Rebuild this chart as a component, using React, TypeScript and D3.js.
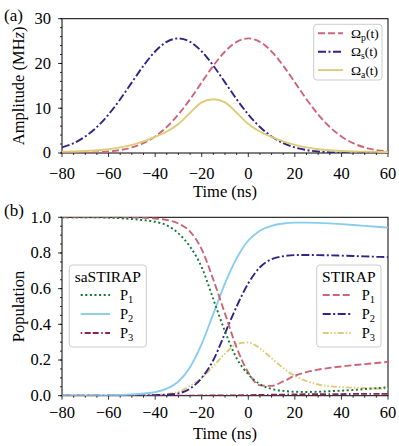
import React from 'react';
import * as d3 from 'd3';

// sample times (ns)
const TIME = [-80, -75, -70, -65, -60, -55, -50, -45, -40, -35, -30, -25, -20, -15, -10, -5, 0, 5, 10, 15, 20, 25, 30, 35, 40, 45, 50, 55, 60];

// panel (a): pulse amplitudes (MHz)
const omegaP = [0.01, 0.03, 0.07, 0.15, 0.33, 0.66, 1.24, 2.2, 3.69, 5.81, 8.61, 12.01, 15.78, 19.5, 22.68, 24.84, 25.6, 24.84, 22.68, 19.5, 15.78, 12.01, 8.61, 5.81, 3.69, 2.2, 1.24, 0.66, 0.33];
const omegaS = [1.24, 2.2, 3.69, 5.81, 8.61, 12.01, 15.78, 19.5, 22.68, 24.84, 25.6, 24.84, 22.68, 19.5, 15.78, 12.01, 8.61, 5.81, 3.69, 2.2, 1.24, 0.66, 0.33, 0.15, 0.07, 0.03, 0.01, 0, 0];
const omegaA = [0.3, 0.35, 0.45, 0.6, 0.85, 1.25, 1.8, 2.6, 3.6, 4.8, 6.5, 9.0, 11.3, 12.0, 11.3, 9.0, 6.5, 4.8, 3.6, 2.6, 1.8, 1.25, 0.85, 0.6, 0.45, 0.35, 0.3, 0.25, 0.2];

// panel (b): populations
const saP1 = [1, 1, 1, 1, 0.998, 0.995, 0.99, 0.984, 0.975, 0.955, 0.91, 0.835, 0.72, 0.54, 0.36, 0.21, 0.12, 0.065, 0.038, 0.027, 0.022, 0.021, 0.022, 0.025, 0.028, 0.032, 0.037, 0.042, 0.047];
const saP2 = [0, 0, 0, 0.001, 0.002, 0.004, 0.007, 0.012, 0.02, 0.04, 0.08, 0.16, 0.29, 0.46, 0.63, 0.77, 0.87, 0.925, 0.952, 0.965, 0.97, 0.97, 0.969, 0.966, 0.962, 0.957, 0.952, 0.947, 0.942];
const saP3 = [0, 0, 0, 0, 0, 0, 0, 0, 0, 0, 0, 0, 0.001, 0.001, 0.002, 0.002, 0.003, 0.004, 0.005, 0.006, 0.007, 0.008, 0.008, 0.009, 0.009, 0.01, 0.01, 0.01, 0.01];
const stP1 = [1, 1, 1, 1, 1, 1, 0.999, 0.997, 0.993, 0.985, 0.965, 0.92, 0.82, 0.65, 0.46, 0.27, 0.13, 0.058, 0.055, 0.08, 0.112, 0.132, 0.146, 0.156, 0.164, 0.171, 0.177, 0.183, 0.19];
const stP2 = [0, 0, 0, 0, 0, 0, 0, 0.001, 0.003, 0.006, 0.013, 0.04, 0.1, 0.2, 0.35, 0.5, 0.63, 0.72, 0.765, 0.782, 0.788, 0.789, 0.788, 0.787, 0.785, 0.783, 0.781, 0.779, 0.777];
const stP3 = [0, 0, 0, 0, 0, 0, 0.001, 0.002, 0.004, 0.01, 0.022, 0.055, 0.1, 0.165, 0.235, 0.29, 0.298, 0.265, 0.21, 0.155, 0.11, 0.082, 0.063, 0.053, 0.048, 0.045, 0.043, 0.04, 0.037];

const xTicks = [-80, -60, -40, -20, 0, 20, 40, 60];
const ampTicks = [0, 10, 20, 30];
const popTicks = [0, 0.2, 0.4, 0.6, 0.8, 1.0];

const FONT = "'Liberation Serif', 'DejaVu Serif', serif";
const FS = 16.5;
const W = 399, H = 446;
const L = 62, R = 388;

const x = d3.scaleLinear().domain([-80, 60]).range([L, R]);
const yA = d3.scaleLinear().domain([0, 30]).range([153, 18.7]);
const yB = d3.scaleLinear().domain([0, 1]).range([395.7, 217.3]);

const C = {
  rose: '#CC6677', indigo: '#332288', sand: '#DDCC77',
  green: '#117733', cyan: '#88CCEE', wine: '#882255',
};

type Series = { vals: number[]; color: string; dash?: string; w?: number };

const seriesA: Series[] = [
  { vals: omegaP, color: C.rose, dash: '7,3' },
  { vals: omegaS, color: C.indigo, dash: '8,2.5,2,2.5' },
  { vals: omegaA, color: C.sand },
];
const seriesB: Series[] = [
  { vals: stP3, color: C.sand, dash: '6,2,1.5,2,1.5,2' },
  { vals: saP3, color: C.wine, dash: '1.5,2.5,6,2,6,2.5' },
  { vals: stP2, color: C.indigo, dash: '8,2.5,2,2.5' },
  { vals: saP2, color: C.cyan },
  { vals: stP1, color: C.rose, dash: '7,3' },
  { vals: saP1, color: C.green, dash: '2,2.6' },
];

function Axes({ y, ticks, minor, fmt, top, bottom, yLabel, xBase, tickBase, id }: any) {
  const xMinor = d3.range(-80, 61, 5);
  return (
    <g>
      {xMinor.map(t => (
        <line key={'xm' + t} x1={x(t)} x2={x(t)} y1={bottom} y2={bottom + (t % 20 === 0 ? 4 : 2)} stroke="#000" strokeWidth={0.8} />
      ))}
      {minor.map((v: number) => (
        <line key={'ym' + v} x1={L} x2={L - 2} y1={y(v)} y2={y(v)} stroke="#000" strokeWidth={0.8} />
      ))}
      {ticks.map((v: number) => (
        <g key={'yt' + v}>
          <line x1={L} x2={L - 4} y1={y(v)} y2={y(v)} stroke="#000" strokeWidth={0.8} />
          <text x={L - 11} y={y(v)} dy="0.33em" textAnchor="end" fontSize={FS}>{fmt(v)}</text>
        </g>
      ))}
      {xTicks.map(t => (
        <text key={'xt' + t} x={x(t)} y={tickBase} textAnchor="middle" fontSize={FS}>{d3.format('')(t).replace('-', '\u2212')}</text>
      ))}
      <rect x={L} y={top} width={R - L} height={bottom - top} fill="none" stroke="#000" strokeWidth={1} />
      <text x={(L + R) / 2} y={xBase} textAnchor="middle" fontSize={FS}>Time (ns)</text>
      <text transform={`translate(18,${(top + bottom) / 2}) rotate(-90)`} textAnchor="middle" dominantBaseline="central" fontSize={FS}>{yLabel}</text>
      <clipPath id={id}><rect x={L} y={top} width={R - L} height={bottom - top} /></clipPath>
    </g>
  );
}

function Curves({ series, y, id }: { series: Series[]; y: any; id: string }) {
  const line = d3.line<number>().x((_, i) => x(TIME[i])).y(v => y(v)).curve(d3.curveMonotoneX);
  return (
    <g clipPath={`url(#${id})`}>
      {series.map((s, i) => (
        <path key={i} d={line(s.vals) || ''} fill="none" stroke={s.color} strokeWidth={s.w ?? 1.9} strokeDasharray={s.dash} />
      ))}
    </g>
  );
}

function Sub({ base, sub }: { base: string; sub: string }) {
  return (
    <>
      {base}
      <tspan baselineShift="-25%" fontSize="0.72em">{sub}</tspan>
    </>
  );
}

function LegendLine({ x1, x2, yy, s }: { x1: number; x2: number; yy: number; s: Series }) {
  return <line x1={x1} x2={x2} y1={yy} y2={yy} stroke={s.color} strokeWidth={1.9} strokeDasharray={s.dash} />;
}

export default function App() {
  const legA = [
    { s: seriesA[0], sub: 'p' },
    { s: seriesA[1], sub: 's' },
    { s: seriesA[2], sub: 'a' },
  ];
  const legSa = [seriesB[5], seriesB[3], seriesB[1]];
  const legSt = [seriesB[4], seriesB[2], seriesB[0]];
  const rowsB = [295, 314, 333];
  return (
    <svg width={W} height={H} style={{ position: 'absolute', left: 0, top: 0, background: '#fff', fontFamily: FONT }}>
      {/* panel (a) */}
      <Axes y={yA} ticks={ampTicks} minor={d3.range(0, 31, 2)} fmt={(v: number) => String(v)} top={18.7} bottom={153}
        yLabel={<>Amplitude (MH<tspan fontStyle="italic">z</tspan>)</>} xBase={197} tickBase={179} id="ca" />
      <Curves series={seriesA} y={yA} id="ca" />
      <text x={4} y={21} fontSize={17}>(a)</text>
      <rect x={313.7} y={24.3} width={68.3} height={55.7} rx={3} fill="#fff" fillOpacity={0.85} stroke="#ccc" />
      {legA.map((d, i) => (
        <g key={i}>
          <LegendLine x1={318} x2={343} yy={33.3 + i * 18.4} s={d.s} />
          <text x={351} y={33.3 + i * 18.4} dy="0.33em" fontSize={13.5}>
            {'\u03A9'}<tspan baselineShift="-25%" fontSize="0.72em">{d.sub}</tspan>(t)
          </text>
        </g>
      ))}

      {/* panel (b) */}
      <Axes y={yB} ticks={popTicks} minor={d3.range(0, 21).map(i => i * 0.05)} fmt={d3.format('.1f')} top={217.3} bottom={395.7}
        yLabel="Population" xBase={439} tickBase={418} id="cb" />
      <Curves series={seriesB} y={yB} id="cb" />
      <text x={4} y={215.5} fontSize={17}>(b)</text>

      <rect x={69.3} y={265} width={77} height={82} rx={3} fill="#fff" fillOpacity={0.85} stroke="#ccc" />
      <text x={107.8} y={282} textAnchor="middle" fontSize={15.5}>saSTIRAP</text>
      {legSa.map((s, i) => (
        <g key={i}>
          <LegendLine x1={80.7} x2={110} yy={rowsB[i]} s={s} />
          <text x={120} y={rowsB[i]} dy="0.33em" fontSize={14.5}><Sub base="P" sub={String(i + 1)} /></text>
        </g>
      ))}

      <rect x={316.7} y={265} width={64.3} height={82} rx={3} fill="#fff" fillOpacity={0.85} stroke="#ccc" />
      <text x={348.8} y={282} textAnchor="middle" fontSize={15.5}>STIRAP</text>
      {legSt.map((s, i) => (
        <g key={i}>
          <LegendLine x1={322.7} x2={350.7} yy={rowsB[i]} s={s} />
          <text x={361.7} y={rowsB[i]} dy="0.33em" fontSize={14.5}><Sub base="P" sub={String(i + 1)} /></text>
        </g>
      ))}
    </svg>
  );
}
